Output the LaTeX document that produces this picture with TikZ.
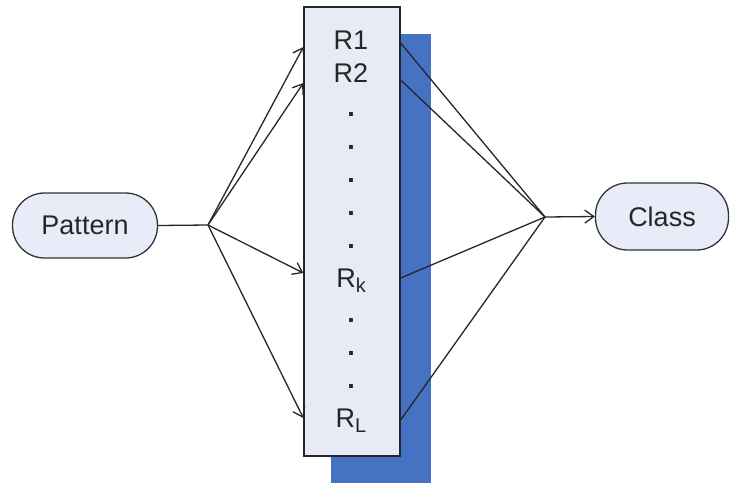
\documentclass[tikz,border=0pt]{standalone}
\usepackage{fontspec}
\setmainfont{Liberation Sans}
\usetikzlibrary{arrows.meta}
\definecolor{nodefill}{RGB}{232,236,248}
\definecolor{boxfill}{RGB}{230,235,246}
\definecolor{barblue}{RGB}{70,114,196}
\newcommand{\sbk}[1]{\raisebox{-5pt}{\fontsize{20}{22}\selectfont #1}}
\begin{document}
\begin{tikzpicture}[x=1pt,y=-1pt,
  conn/.style={line width=1.3pt,draw=black!85},
  arr/.style={conn,-{Straight Barb[length=9pt,width=13pt,line width=1.3pt]}},
  pill/.style={draw=black!80,line width=1.3pt,fill=nodefill,rounded corners=32pt,inner sep=0pt,font=\fontsize{27}{30}\selectfont,text=black!85},
  lab/.style={anchor=base,inner sep=0pt,font=\fontsize{27}{30}\selectfont,text=black!85},
  dotlab/.style={lab,font=\fontsize{27}{30}\selectfont\bfseries}]
\useasboundingbox (0,0) rectangle (731,483);
\fill[barblue] (331,34) rectangle (431,483);
\node[draw=black!85,line width=1.3pt,fill=boxfill,minimum width=96pt,minimum height=449pt,inner sep=0pt] (box) at (352,231.5) {};
\node[pill,minimum width=145pt,minimum height=65pt] (pattern) at (85,225.5) {Pattern};
\node[pill,minimum width=133pt,minimum height=67pt] (class) at (662,216.5) {Class};
\coordinate (jl) at (208,225);
\coordinate (jr) at (545,217);
% labels
\node[lab] (r1) at (351,49) {R1};
\node[lab] (r2) at (351,82) {R2};
\node[dotlab] (d1) at (351,116) {.};
\node[dotlab] (d2) at (351,149) {.};
\node[dotlab] (d3) at (351,182) {.};
\node[dotlab] (d4) at (351,215) {.};
\node[dotlab] (d5) at (351,248) {.};
\node[lab] (rk) at (351,287) {R\sbk{k}};
\node[dotlab] (d6) at (351,322) {.};
\node[dotlab] (d7) at (351,355) {.};
\node[dotlab] (d8) at (351,388) {.};
\node[lab] (rl) at (351,427) {R\sbk{L}};
% connectors
\draw[conn] (pattern.east) -- (jl);
\coordinate (i1) at (box.west |- 0,47);
\coordinate (i2) at (box.west |- 0,83);
\coordinate (i3) at (box.west |- 0,273);
\coordinate (i4) at (box.west |- 0,418);
\draw[arr] (jl) -- (i1);
\draw[arr] (jl) -- (i2);
\draw[arr] (jl) -- (i3);
\draw[arr] (jl) -- (i4);
\coordinate (o1) at (box.east |- 0,43);
\coordinate (o2) at (box.east |- 0,80);
\coordinate (o3) at (box.east |- 0,278);
\coordinate (o4) at (box.east |- 0,420);
\draw[conn] (o1) -- (jr);
\draw[conn] (o2) -- (jr);
\draw[conn] (o3) -- (jr);
\draw[conn] (o4) -- (jr);
\draw[arr] (jr) -- (class.west);
\end{tikzpicture}
\end{document}
